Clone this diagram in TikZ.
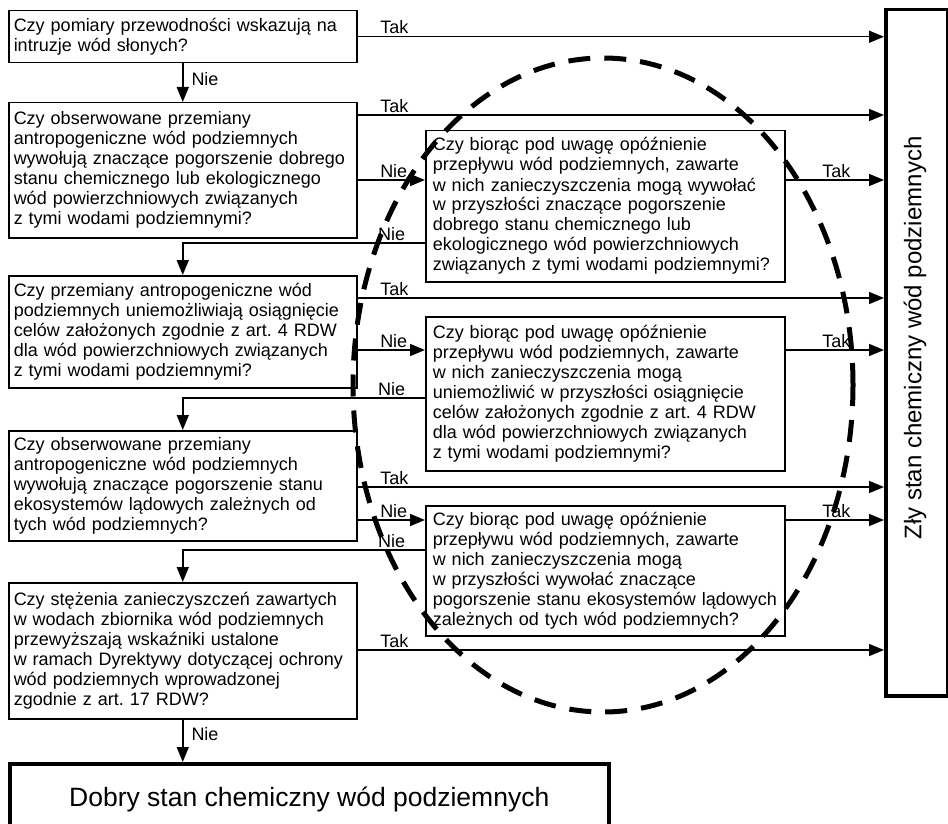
\documentclass[tikz,border=0pt]{standalone}
\usepackage{fontspec}
\setmainfont{Liberation Sans}
\usetikzlibrary{arrows.meta}
\frenchspacing
\begin{document}
\begin{tikzpicture}[x=1pt,y=-1pt,
  qbox/.style={draw, line width=1.5pt, anchor=north west, align=left,
    inner xsep=5pt, inner ysep=0pt, text width=338pt, minimum width=348pt,
    font=\fontsize{18}{20}\selectfont},
  mbox/.style={qbox, inner xsep=7pt, text width=345pt, minimum width=359pt},
  bigbox/.style={draw, line width=3.5pt, anchor=north west, inner sep=0pt},
  arr/.style={line width=1.5pt, -{Triangle[length=15pt,width=12pt]}},
  lab/.style={inner sep=2pt, font=\fontsize{18}{20}\selectfont},
  oval/.style={line width=5pt, dash pattern=on 22pt off 14pt}]
\fill[white] (0,0) rectangle (948,824);
\useasboundingbox (0,0) rectangle (948,824);

% left question boxes
\node[qbox, minimum height=52pt] (b1) at (8,10)
  {Czy pomiary przewodności wskazują na\\intruzje wód słonych?};
\node[qbox, minimum height=135pt] (b2) at (8,102)
  {Czy obserwowane przemiany\\antropogeniczne wód podziemnych\\wywołują znaczące pogorszenie dobrego\\stanu chemicznego lub ekologicznego\\wód powierzchniowych związanych\\z tymi wodami podziemnymi?};
\node[qbox, minimum height=112pt] (b3) at (8,275)
  {Czy przemiany antropogeniczne wód\\podziemnych uniemożliwiają osiągnięcie\\celów założonych zgodnie z art. 4 RDW\\dla wód powierzchniowych związanych\\z tymi wodami podziemnymi?};
\node[qbox, minimum height=110pt] (b4) at (8,430)
  {Czy obserwowane przemiany\\antropogeniczne wód podziemnych\\wywołują znaczące pogorszenie stanu\\ekosystemów lądowych zależnych od\\tych wód podziemnych?};
\node[qbox, minimum height=136pt] (b5) at (8,582)
  {Czy stężenia zanieczyszczeń zawartych\\w wodach zbiornika wód podziemnych\\przewyższają wskaźniki ustalone\\w ramach Dyrektywy dotyczącej ochrony\\wód podziemnych wprowadzonej\\zgodnie z art. 17 RDW?};

% middle boxes
\node[mbox, minimum height=151pt] (m1) at (425,130)
  {Czy biorąc pod uwagę opóźnienie\\przepływu wód podziemnych, zawarte\\w nich zanieczyszczenia mogą wywołać\\w przyszłości znaczące pogorszenie\\dobrego stanu chemicznego lub\\ekologicznego wód powierzchniowych\\związanych z tymi wodami podziemnymi?};
\node[mbox, minimum height=154pt] (m2) at (425,316)
  {Czy biorąc pod uwagę opóźnienie\\przepływu wód podziemnych, zawarte\\w nich zanieczyszczenia mogą\\uniemożliwić w przyszłości osiągnięcie\\celów założonych zgodnie z art. 4 RDW\\dla wód powierzchniowych związanych\\z tymi wodami podziemnymi?};
\node[mbox, minimum height=130pt] (m3) at (425,505)
  {Czy biorąc pod uwagę opóźnienie\\przepływu wód podziemnych, zawarte\\w nich zanieczyszczenia mogą\\w przyszłości wywołać znaczące\\pogorszenie stanu ekosystemów lądowych\\zależnych od tych wód podziemnych?};

% result boxes
\node[bigbox, minimum width=62pt, minimum height=686pt] (R) at (884,8) {};
\node[rotate=90, font=\fontsize{24}{28}\selectfont] (Rt) at (915,338)
  {Zły stan chemiczny wód podziemnych};
\node[bigbox, minimum width=599pt, minimum height=72pt,
  font=\fontsize{26.5}{30}\selectfont] (G) at (8,762)
  {Dobry stan chemiczny wód podziemnych};

% connectors: row 1
\draw[arr] (b1.east) -- (b1.east -| R.west)
  node[lab, pos=0, anchor=south west, xshift=20pt] {Tak};
\draw[arr] (b1.south) -- (b2.north)
  node[lab, pos=0.4, anchor=west, xshift=6pt] {Nie};
% row 2
\draw[arr] (b2.east |- 0,115) -- (R.west |- 0,115)
  node[lab, pos=0, anchor=south west, xshift=20pt] {Tak};
\draw[arr] (b2.east |- 0,180) -- (m1.west |- 0,180)
  node[lab, pos=0, anchor=south west, xshift=20pt] {Nie};
\draw[arr] (m1.east |- 0,180) -- (R.west |- 0,180)
  node[lab, pos=0, anchor=south west, xshift=34pt] {Tak};
\draw[arr] (m1.west |- 0,243) node[lab, anchor=south east, xshift=-17pt] {Nie}
  -| (b3.north);
% row 3
\draw[arr] (b3.east |- 0,298) -- (R.west |- 0,298)
  node[lab, pos=0, anchor=south west, xshift=20pt] {Tak};
\draw[arr] (b3.east |- 0,350) -- (m2.west |- 0,350)
  node[lab, pos=0, anchor=south west, xshift=20pt] {Nie};
\draw[arr] (m2.east |- 0,350) -- (R.west |- 0,350)
  node[lab, pos=0, anchor=south west, xshift=34pt] {Tak};
\draw[arr] (m2.west |- 0,398) node[lab, anchor=south east, xshift=-17pt] {Nie}
  -| (b4.north);
% row 4
\draw[arr] (b4.east |- 0,487) -- (R.west |- 0,487)
  node[lab, pos=0, anchor=south west, xshift=20pt] {Tak};
\draw[arr] (b4.east |- 0,520) -- (m3.west |- 0,520)
  node[lab, pos=0, anchor=south west, xshift=20pt] {Nie};
\draw[arr] (m3.east |- 0,520) -- (R.west |- 0,520)
  node[lab, pos=0, anchor=south west, xshift=34pt] {Tak};
\draw[arr] (m3.west |- 0,550) node[lab, anchor=south east, xshift=-17pt] {Nie}
  -| (b5.north);
% row 5
\draw[arr] (b5.east |- 0,650) -- (R.west |- 0,650)
  node[lab, pos=0, anchor=south west, xshift=20pt] {Tak};
\draw[arr] (b5.south) -- (b5.south |- G.north)
  node[lab, pos=0.35, anchor=west, xshift=6pt] {Nie};

% dashed oval
\draw[oval] (603,385) ellipse [x radius=250pt, y radius=327pt];
\end{tikzpicture}
\end{document}
